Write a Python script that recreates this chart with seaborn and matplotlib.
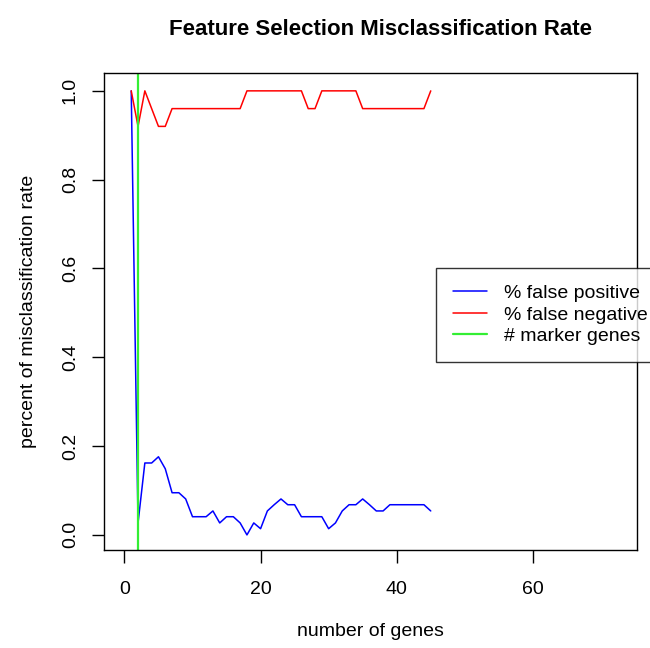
import numpy as np
import pandas as pd
import matplotlib
matplotlib.use("Agg")
import matplotlib.pyplot as plt
import seaborn as sns

# Data
num_genes = list(range(1, 46))
false_positive = [1.0, 0.027, 0.162, 0.162, 0.176, 0.149, 0.095, 0.095, 0.081, 0.041,
                  0.041, 0.041, 0.054, 0.027, 0.041, 0.041, 0.027, 0.0, 0.027, 0.014,
                  0.054, 0.068, 0.081, 0.068, 0.068, 0.041, 0.041, 0.041, 0.041, 0.014,
                  0.027, 0.054, 0.068, 0.068, 0.081, 0.068, 0.054, 0.054, 0.068, 0.068,
                  0.068, 0.068, 0.068, 0.068, 0.054]
false_negative = [1.0, 0.92, 1.0, 0.96, 0.92, 0.92, 0.96, 0.96, 0.96, 0.96,
                  0.96, 0.96, 0.96, 0.96, 0.96, 0.96, 0.96, 1.0, 1.0, 1.0,
                  1.0, 1.0, 1.0, 1.0, 1.0, 1.0, 0.96, 0.96, 1.0, 1.0,
                  1.0, 1.0, 1.0, 1.0, 0.96, 0.96, 0.96, 0.96, 0.96, 0.96,
                  0.96, 0.96, 0.96, 0.96, 1.0]
marker_genes = 2

series_names = ["% false positive", "% false negative", "# marker genes"]
series_colors = ["#0000FF", "#FF0000", "#33EE33"]

df = pd.DataFrame({"genes": num_genes, "fp": false_positive, "fn": false_negative})

sns.set_style("ticks")
plt.rcParams['font.family'] = ['Liberation Sans', 'DejaVu Sans']
plt.rcParams['text.color'] = 'black'
plt.rcParams['axes.labelcolor'] = 'black'
plt.rcParams['xtick.color'] = 'black'
plt.rcParams['ytick.color'] = 'black'

fig = plt.figure(figsize=(6.5, 6.48), dpi=100)
ax = fig.add_axes([0.16, 0.1512, 0.82, 0.736])

sns.lineplot(data=df, x="genes", y="fp", ax=ax, color=series_colors[0], lw=1.1,
             label=series_names[0])
sns.lineplot(data=df, x="genes", y="fn", ax=ax, color=series_colors[1], lw=1.1,
             label=series_names[1])
ax.axvline(marker_genes, color=series_colors[2], lw=1.6, label=series_names[2])

ax.set_xlim(-3.0, 75.3)
ax.set_ylim(-0.034, 1.04)
ax.set_xticks([0, 20, 40, 60])
ax.set_yticks([0.0, 0.2, 0.4, 0.6, 0.8, 1.0])
ax.set_yticklabels(["0.0", "0.2", "0.4", "0.6", "0.8", "1.0"], rotation=90, va="center")
ax.tick_params(axis="both", labelsize=14, length=9, width=1, direction="out")
ax.tick_params(axis="x", pad=13)
ax.tick_params(axis="y", pad=9)
for s in ax.spines.values():
    s.set_visible(True)
    s.set_color("black")
    s.set_linewidth(1)

ax.set_xlabel("number of genes", fontsize=14, labelpad=18)
ax.set_ylabel("percent of misclassification rate", fontsize=14, labelpad=18)
fig.suptitle("Feature Selection Misclassification Rate", fontsize=16, fontweight="bold",
             x=0.586, y=0.97)

leg = ax.legend(loc="upper left", bbox_to_anchor=(436 / 650, 1 - 268 / 648),
                bbox_transform=fig.transFigure, frameon=True, fancybox=False,
                fontsize=14, handlelength=1.75, handletextpad=0.9, labelspacing=0.2,
                borderpad=0.85, borderaxespad=0)
leg.get_frame().set_edgecolor("black")
leg.get_frame().set_linewidth(1)

fig.savefig("out.png", dpi=100)
